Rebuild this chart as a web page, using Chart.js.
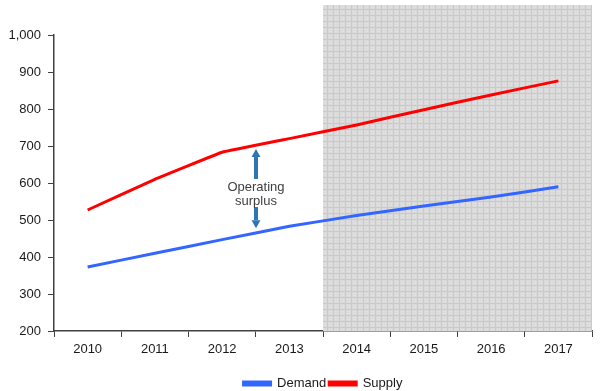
<!DOCTYPE html>
<html>
<head>
<meta charset="utf-8">
<script src="https://cdn.jsdelivr.net/npm/chart.js@4/dist/chart.umd.min.js"></script>
<style>
  html, body { margin: 0; padding: 0; background: #fff; }
  #wrap { width: 600px; height: 391px; position: relative; }
</style>
</head>
<body>
<div id="wrap"><canvas id="surplusChart"></canvas></div>
<script>
const years = ["2010", "2011", "2012", "2013", "2014", "2015", "2016", "2017"];
const demand = [373, 410, 447, 483, 512, 538, 562, 590];
const supply = [527, 610, 683, 720, 757, 798, 838, 876];
const forecastFrom = 4; // shaded from 2014 onward
const yTicks = [200, 300, 400, 500, 600, 700, 800, 900, 1000];
const surplusLabel = ["Operating", "surplus"];
const upArrow = [611, 692];   // value range, base -> tip
const downArrow = [535, 478]; // value range, base -> tip

const axisColor = "#404040";
const textColor = "#1a1a1a";
const fontFamily = "'Liberation Sans', Arial, sans-serif";

const forecastShade = {
  id: "forecastShade",
  beforeDatasetsDraw(chart) {
    const { ctx, chartArea, scales } = chart;
    const x0 = Math.round((scales.x.getPixelForValue(forecastFrom - 1) + scales.x.getPixelForValue(forecastFrom)) / 2);
    const x1 = chartArea.right;
    const y0 = 5;
    const y1 = chartArea.bottom;
    ctx.save();
    ctx.fillStyle = "#e4e4e4";
    ctx.fillRect(x0, y0, x1 - x0, y1 - y0);
    ctx.lineWidth = 1;
    ctx.strokeStyle = "#dadada";
    ctx.beginPath();
    for (let x = x0 + 1; x < x1; x += 2) { ctx.moveTo(x + 0.5, y0); ctx.lineTo(x + 0.5, y1); }
    for (let y = y0 + 1; y < y1; y += 2) { ctx.moveTo(x0, y + 0.5); ctx.lineTo(x1, y + 0.5); }
    ctx.stroke();
    ctx.strokeStyle = "#cacaca";
    ctx.beginPath();
    for (let x = x0 + 4; x < x1; x += 6) { ctx.moveTo(x + 0.5, y0); ctx.lineTo(x + 0.5, y1); }
    for (let y = y0 + 4; y < y1; y += 6) { ctx.moveTo(x0, y + 0.5); ctx.lineTo(x1, y + 0.5); }
    ctx.stroke();
    ctx.restore();
  },
};

function drawArrow(ctx, x, yFrom, yTo, color) {
  const dir = yTo < yFrom ? -1 : 1;
  const head = 8;
  ctx.fillStyle = color;
  const neck = yTo - dir * head;
  ctx.fillRect(x - 2, Math.min(yFrom, neck), 4, Math.abs(neck - yFrom));
  ctx.beginPath();
  ctx.moveTo(x, yTo);
  ctx.lineTo(x - 4.5, neck);
  ctx.lineTo(x + 4.5, neck);
  ctx.closePath();
  ctx.fill();
}

const surplusNote = {
  id: "surplusNote",
  afterDatasetsDraw(chart) {
    const { ctx, scales } = chart;
    const x = Math.round((scales.x.getPixelForValue(2) + scales.x.getPixelForValue(3)) / 2);
    const upBase = scales.y.getPixelForValue(upArrow[0]);
    const downBase = scales.y.getPixelForValue(downArrow[0]);
    ctx.save();
    drawArrow(ctx, x, upBase, scales.y.getPixelForValue(upArrow[1]), "#2e75b6");
    drawArrow(ctx, x, downBase, scales.y.getPixelForValue(downArrow[1]), "#2e75b6");
    ctx.fillStyle = "#404040";
    ctx.font = "13px " + fontFamily;
    ctx.textAlign = "center";
    ctx.textBaseline = "middle";
    const yMid = (upBase + downBase) / 2;
    ctx.fillText(surplusLabel[0], x, yMid - 6);
    ctx.fillText(surplusLabel[1], x, yMid + 8);
    ctx.restore();
  },
};

new Chart(document.getElementById("surplusChart"), {
  type: "line",
  data: {
    labels: years,
    datasets: [
      { label: "Demand", data: demand, borderColor: "#3366ff", backgroundColor: "#3366ff", borderWidth: 3, pointRadius: 0, tension: 0.05 },
      { label: "Supply", data: supply, borderColor: "#ff0000", backgroundColor: "#ff0000", borderWidth: 3, pointRadius: 0, tension: 0.05 },
    ],
  },
  options: {
    responsive: true,
    maintainAspectRatio: false,
    animation: false,
    layout: { padding: { top: 35, right: 8, left: 0, bottom: -9 } },
    plugins: {
      tooltip: { enabled: false },
      legend: {
        position: "bottom",
        fullSize: false,
        labels: {
          color: textColor,
          font: { family: fontFamily, size: 13 },
          boxWidth: 27,
          boxHeight: 3,
          padding: 3,
        },
      },
    },
    scales: {
      x: {
        offset: true,
        grid: { offset: true, drawOnChartArea: false, color: axisColor, tickLength: 6, tickColor: axisColor },
        border: { color: axisColor, width: 1.5 },
        ticks: { color: textColor, font: { family: fontFamily, size: 13 }, padding: 5, maxRotation: 0 },
        afterFit(scale) { scale.height = 43; },
      },
      y: {
        min: 200,
        max: 1000,
        afterBuildTicks(scale) { scale.ticks = yTicks.map((v) => ({ value: v })); },
        grid: { drawOnChartArea: false, tickLength: 6, tickColor: axisColor },
        border: { color: axisColor, width: 1.5 },
        ticks: {
          color: textColor,
          font: { family: fontFamily, size: 13 },
          padding: 7,
          callback: (v) => v.toLocaleString("en-US"),
        },
        afterFit(scale) { scale.width = 54; },
      },
    },
  },
  plugins: [forecastShade, surplusNote],
});
</script>
</body>
</html>
